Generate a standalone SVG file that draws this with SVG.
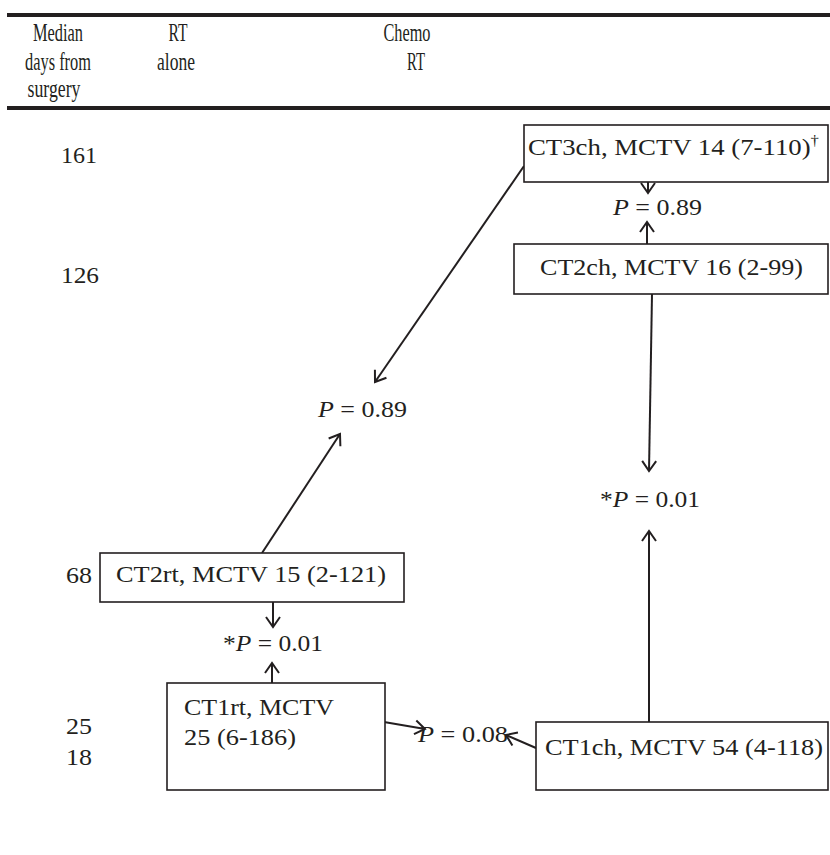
<svg xmlns="http://www.w3.org/2000/svg" width="830" height="855" viewBox="0 0 830 855">
<style>
text{font-family:"Liberation Serif","Times New Roman",serif;fill:#231f20}
.h{font-size:26px;text-anchor:middle}
.t{font-size:24px}
.box{fill:#fff;stroke:#231f20;stroke-width:1.6}
.ln{fill:none;stroke:#231f20;stroke-width:2}
.i{font-style:italic}
</style>
<defs>
<marker id="ah" markerUnits="userSpaceOnUse" markerWidth="24" markerHeight="24" viewBox="-12 -12 24 24" refX="0" refY="0" orient="auto">
<path d="M-10,-7 L0,0 L-10,7" fill="none" stroke="#231f20" stroke-width="2"/>
</marker>
</defs>
<g id="header">
<rect x="7" y="13" width="823" height="4" fill="#231f20"/>
<rect x="7" y="106" width="823" height="4" fill="#231f20"/>
<text class="h" x="58" y="41" textLength="50" lengthAdjust="spacingAndGlyphs">Median</text>
<text class="h" x="58" y="70" textLength="66" lengthAdjust="spacingAndGlyphs">days from</text>
<text class="h" x="54" y="97" textLength="53" lengthAdjust="spacingAndGlyphs">surgery</text>
<text class="h" x="178" y="41" textLength="19" lengthAdjust="spacingAndGlyphs">RT</text>
<text class="h" x="176" y="70" textLength="38" lengthAdjust="spacingAndGlyphs">alone</text>
<text class="h" x="407" y="41" textLength="47" lengthAdjust="spacingAndGlyphs">Chemo</text>
<text class="h" x="416" y="70" textLength="18" lengthAdjust="spacingAndGlyphs">RT</text>
</g>
<g id="days">
<text class="t" x="61" y="163" textLength="36" lengthAdjust="spacingAndGlyphs">161</text>
<text class="t" x="61" y="283" textLength="38" lengthAdjust="spacingAndGlyphs">126</text>
<text class="t" x="66" y="583" textLength="26" lengthAdjust="spacingAndGlyphs">68</text>
<text class="t" x="66" y="734" textLength="26" lengthAdjust="spacingAndGlyphs">25</text>
<text class="t" x="66" y="765" textLength="26" lengthAdjust="spacingAndGlyphs">18</text>
</g>
<g id="connectors">
<line class="ln" x1="648" y1="182" x2="648" y2="193" marker-end="url(#ah)"/>
<line class="ln" x1="647" y1="244" x2="647" y2="222" marker-end="url(#ah)"/>
<line class="ln" x1="524" y1="166" x2="375" y2="382" marker-end="url(#ah)"/>
<line class="ln" x1="262" y1="553" x2="340" y2="434" marker-end="url(#ah)"/>
<line class="ln" x1="652" y1="294" x2="649" y2="471" marker-end="url(#ah)"/>
<line class="ln" x1="649" y1="722" x2="649" y2="531" marker-end="url(#ah)"/>
<line class="ln" x1="273" y1="602" x2="273" y2="627" marker-end="url(#ah)"/>
<line class="ln" x1="272" y1="683" x2="272" y2="663" marker-end="url(#ah)"/>
<line class="ln" x1="384" y1="722" x2="425" y2="729" marker-end="url(#ah)"/>
<line class="ln" x1="536" y1="748" x2="506" y2="735" marker-end="url(#ah)"/>
</g>
<g id="CT3ch">
<rect class="box" x="524" y="125" width="304" height="57"/>
<text class="t" x="528" y="155" textLength="291" lengthAdjust="spacingAndGlyphs">CT3ch, MCTV 14 (7-110)<tspan font-size="15" dy="-10">†</tspan></text>
</g>
<g id="p089r">
<text class="t" x="613" y="215" textLength="89" lengthAdjust="spacingAndGlyphs"><tspan class="i">P</tspan> = 0.89</text>
</g>
<g id="CT2ch">
<rect class="box" x="514" y="244" width="314" height="50"/>
<text class="t" x="540" y="275" textLength="263" lengthAdjust="spacingAndGlyphs">CT2ch, MCTV 16 (2-99)</text>
</g>
<g id="p089l">
<text class="t" x="318" y="417" textLength="89" lengthAdjust="spacingAndGlyphs"><tspan class="i">P</tspan> = 0.89</text>
</g>
<g id="p001r">
<text class="t" x="600" y="507" textLength="100" lengthAdjust="spacingAndGlyphs">*<tspan class="i">P</tspan> = 0.01</text>
</g>
<g id="CT2rt">
<rect class="box" x="100" y="553" width="304" height="49"/>
<text class="t" x="116" y="582" textLength="270" lengthAdjust="spacingAndGlyphs">CT2rt, MCTV 15 (2-121)</text>
</g>
<g id="p001l">
<text class="t" x="223" y="651" textLength="100" lengthAdjust="spacingAndGlyphs">*<tspan class="i">P</tspan> = 0.01</text>
</g>
<g id="CT1rt">
<rect class="box" x="167" y="683" width="218" height="107"/>
<text class="t" x="184" y="715" textLength="150" lengthAdjust="spacingAndGlyphs">CT1rt, MCTV</text>
<text class="t" x="184" y="745" textLength="112" lengthAdjust="spacingAndGlyphs">25 (6-186)</text>
</g>
<g id="p008">
<text class="t" x="418" y="742" textLength="90" lengthAdjust="spacingAndGlyphs"><tspan class="i">P</tspan> = 0.08</text>
</g>
<g id="CT1ch">
<rect class="box" x="536" y="722" width="292" height="68"/>
<text class="t" x="545" y="755" textLength="278" lengthAdjust="spacingAndGlyphs">CT1ch, MCTV 54 (4-118)</text>
</g>
</svg>
